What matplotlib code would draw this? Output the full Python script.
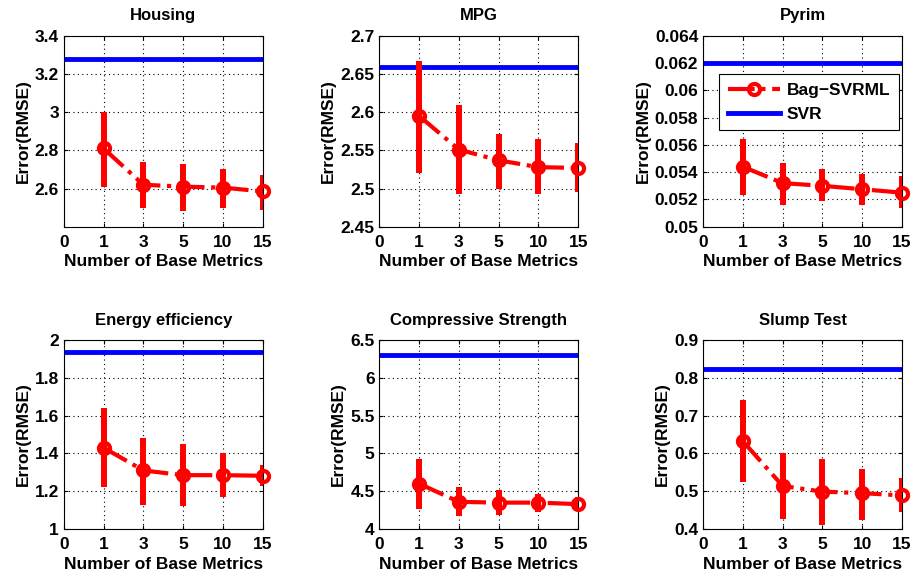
import numpy as np
import matplotlib
matplotlib.use("Agg")
import matplotlib.pyplot as plt

plt.rcParams['font.family'] = ['Liberation Sans', 'DejaVu Sans']
plt.rcParams['font.weight'] = 'bold'
plt.rcParams['font.size'] = 12

x_labels = ['0', '1', '3', '5', '10', '15']

titles = ['Housing', 'MPG', 'Pyrim', 'Energy efficiency', 'Compressive Strength', 'Slump Test']

housing_mean = [2.81, 2.62, 2.61, 2.605, 2.585]
housing_lo = [2.61, 2.50, 2.48, 2.50, 2.49]
housing_hi = [3.00, 2.74, 2.73, 2.70, 2.67]
housing_svr = 3.28

mpg_mean = [2.595, 2.551, 2.537, 2.528, 2.527]
mpg_lo = [2.520, 2.493, 2.500, 2.493, 2.495]
mpg_hi = [2.667, 2.610, 2.572, 2.565, 2.560]
mpg_svr = 2.659

pyrim_mean = [0.0544, 0.0532, 0.0530, 0.05275, 0.0525]
pyrim_lo = [0.0523, 0.0516, 0.0519, 0.0516, 0.0514]
pyrim_hi = [0.0564, 0.0547, 0.0542, 0.0539, 0.0537]
pyrim_svr = 0.0620

energy_mean = [1.43, 1.31, 1.285, 1.285, 1.282]
energy_lo = [1.22, 1.13, 1.12, 1.17, 1.23]
energy_hi = [1.64, 1.48, 1.45, 1.40, 1.34]
energy_svr = 1.935

comp_mean = [4.60, 4.36, 4.35, 4.35, 4.33]
comp_lo = [4.27, 4.17, 4.18, 4.22, 4.24]
comp_hi = [4.93, 4.56, 4.52, 4.47, 4.43]
comp_svr = 6.30

slump_mean = [0.632, 0.514, 0.499, 0.495, 0.489]
slump_lo = [0.525, 0.427, 0.410, 0.425, 0.445]
slump_hi = [0.740, 0.600, 0.585, 0.560, 0.535]
slump_svr = 0.823

panels = [
    (housing_mean, housing_lo, housing_hi, housing_svr, (2.4, 3.4), [2.6, 2.8, 3.0, 3.2, 3.4], ['2.6', '2.8', '3', '3.2', '3.4']),
    (mpg_mean, mpg_lo, mpg_hi, mpg_svr, (2.45, 2.7), [2.45, 2.5, 2.55, 2.6, 2.65, 2.7], ['2.45', '2.5', '2.55', '2.6', '2.65', '2.7']),
    (pyrim_mean, pyrim_lo, pyrim_hi, pyrim_svr, (0.05, 0.064), [0.05, 0.052, 0.054, 0.056, 0.058, 0.06, 0.062, 0.064],
     ['0.05', '0.052', '0.054', '0.056', '0.058', '0.06', '0.062', '0.064']),
    (energy_mean, energy_lo, energy_hi, energy_svr, (1.0, 2.0), [1, 1.2, 1.4, 1.6, 1.8, 2], ['1', '1.2', '1.4', '1.6', '1.8', '2']),
    (comp_mean, comp_lo, comp_hi, comp_svr, (4.0, 6.5), [4, 4.5, 5, 5.5, 6, 6.5], ['4', '4.5', '5', '5.5', '6', '6.5']),
    (slump_mean, slump_lo, slump_hi, slump_svr, (0.4, 0.9), [0.4, 0.5, 0.6, 0.7, 0.8, 0.9], ['0.4', '0.5', '0.6', '0.7', '0.8', '0.9']),
]

fig = plt.figure(figsize=(9.12, 5.77), dpi=100)

lefts = [0.070, 0.416, 0.771]
bottoms = [0.607, 0.083]
w = 0.218
hs = [0.331, 0.328]

xpos = np.arange(1, 6)

for i, (mean, lo, hi, svr, ylim, yt, ytl) in enumerate(panels):
    r, c = divmod(i, 3)
    ax = fig.add_axes([lefts[c], bottoms[r], w, hs[r]])
    mean = np.array(mean)
    lo = np.array(lo)
    hi = np.array(hi)
    ax.axhline(svr, color='#0000ff', lw=3.5, zorder=2, label='SVR')
    ax.vlines(xpos, lo, hi, color='#ff0000', lw=4.3, zorder=3)
    ax.plot(xpos, mean, color='#ff0000', ls='-.', lw=3, marker='o', ms=8,
            mfc='none', mec='#ff0000', mew=3, zorder=4, clip_on=False,
            label='Bag\u2212SVRML')
    ax.set_xlim(0, 5)
    ax.set_ylim(*ylim)
    ax.set_xticks(range(6))
    ax.set_xticklabels(x_labels)
    ax.set_yticks(yt)
    ax.set_yticklabels(ytl)
    ax.grid(True, color='k', ls=(0, (1, 3)), lw=0.8)
    ax.tick_params(direction='in', length=3, top=True, right=True, labelsize=12.5)
    ax.tick_params(axis='x', pad=6)
    for lab in ax.get_xticklabels() + ax.get_yticklabels():
        lab.set_fontweight('bold')
    ax.set_title(titles[i], fontsize=12, fontweight='bold', pad=11)
    ax.set_xlabel('Number of Base Metrics', fontsize=12.5, fontweight='bold', labelpad=3)
    ax.set_ylabel('Error(RMSE)', fontsize=12.5, fontweight='bold', labelpad=3)
    for s in ax.spines.values():
        s.set_linewidth(0.8)
    if i == 2:
        h, l = ax.get_legend_handles_labels()
        leg = ax.legend(h[::-1], l[::-1], loc='upper left', bbox_to_anchor=(0.08, 0.516, 0.905, 0.284),
                        mode='expand', fancybox=False, framealpha=1, edgecolor='k',
                        prop={'weight': 'bold', 'size': 12.5}, handlelength=3.0, handletextpad=0.4,
                        borderaxespad=0, borderpad=0.5, labelspacing=0.5)
        leg.get_frame().set_linewidth(0.8)
        leg.set_zorder(10)

fig.savefig('out.png', dpi=100)
